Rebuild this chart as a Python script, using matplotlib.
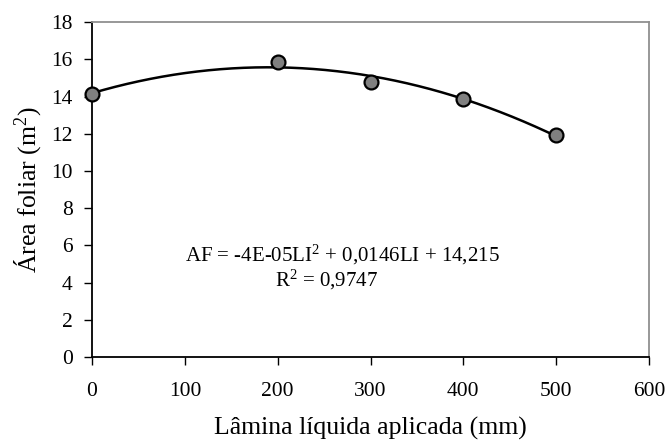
import matplotlib.pyplot as plt
import numpy as np

# data
lamina = np.array([0, 200, 300, 400, 500])
area = np.array([14.12, 15.87, 14.80, 13.87, 11.93])
xticks = [0, 100, 200, 300, 400, 500, 600]
yticks = [0, 2, 4, 6, 8, 10, 12, 14, 16, 18]

plt.rcParams['font.family'] = ['Liberation Serif', 'DejaVu Serif']
plt.rcParams['mathtext.fontset'] = 'custom'
plt.rcParams['mathtext.rm'] = 'Liberation Serif'

fig = plt.figure(figsize=(6.67, 4.41), dpi=100)
ax = fig.add_axes([0.138, 0.190, 0.835, 0.760])

# quadratic trendline
coef = np.polyfit(lamina, area, 2)
xs = np.linspace(lamina.min(), lamina.max(), 200)
ax.plot(xs, np.polyval(coef, xs), color='black', lw=1.8, zorder=2)
ax.plot(lamina, area, 'o', ms=10, mfc='#808080', mec='black', mew=1.6,
        zorder=3, clip_on=False)

ax.set_xlim(0, 600)
ax.set_ylim(0, 18)
ax.set_xticks(xticks)
ax.set_yticks(yticks)
ax.tick_params(direction='out', length=6, width=1, labelsize=15.5, colors='black', pad=8)
ax.tick_params(axis='x', pad=12)

for s in ['left', 'bottom']:
    ax.spines[s].set_linewidth(1.3)
    ax.spines[s].set_color('black')
for s in ['top', 'right']:
    ax.spines[s].set_linewidth(1.3)
    ax.spines[s].set_color('#909090')

ax.set_xlabel('Lâmina líquida aplicada (mm)', fontsize=18.5, labelpad=11)
ax.set_ylabel('Área foliar (m$\\mathregular{^2}$)', fontsize=18.5, labelpad=6)

ax.text(270, 5.48, 'AF = -4E-05LI$\\mathregular{^2}$ + 0,0146LI + 14,215', fontsize=15, ha='center', va='center')
ax.text(253, 4.14, 'R$\\mathregular{^2}$ = 0,9747', fontsize=15, ha='center', va='center')

fig.savefig('out.png', dpi=100)
